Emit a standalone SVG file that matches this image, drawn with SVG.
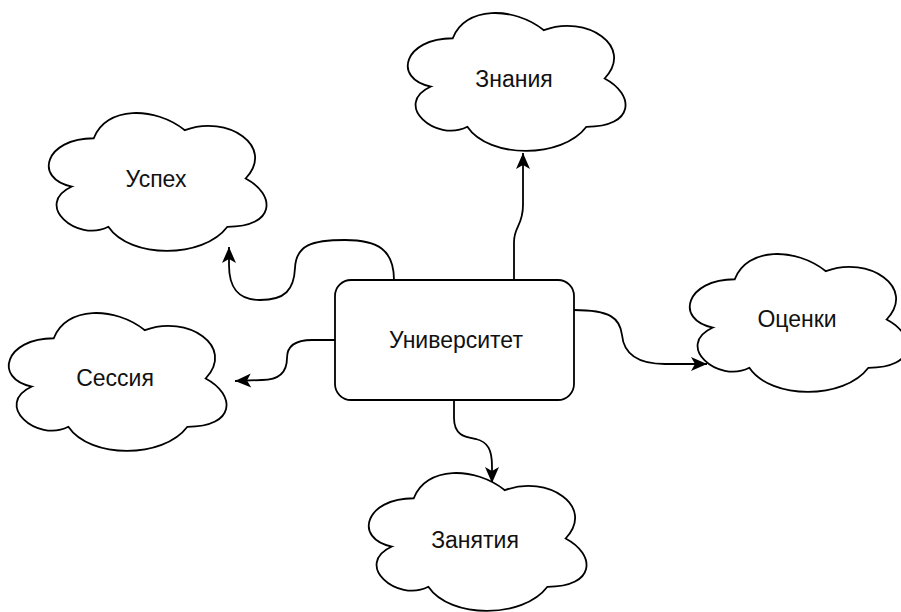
<svg xmlns="http://www.w3.org/2000/svg" xmlns:xlink="http://www.w3.org/1999/xlink" width="901" height="612" viewBox="0 0 901 612">
<style>
.shape{fill:#fff;stroke:#000;stroke-width:1.8}
.lbl{font-family:"Liberation Sans",Arial,sans-serif;font-size:23px;fill:#111;text-anchor:middle}
.edge{fill:none;stroke:#000;stroke-width:1.8;marker-end:url(#arr)}
</style>
<defs>
<path id="cloud" class="shape" d="M60.75,40.25 C12.15,40.25 0,80.5 38.88,88.55 C0,106.26 43.74,144.9 75.33,128.8 C97.2,161 170.1,161 194.4,128.8 C243,128.8 243,96.6 212.63,80.5 C243,48.3 194.4,16.1 151.88,32.2 C121.5,8.05 72.9,8.05 60.75,40.25 Z"/>
<marker id="arr" markerUnits="userSpaceOnUse" markerWidth="18" markerHeight="16" refX="16" refY="7" orient="auto" overflow="visible">
<path d="M0,0 L16,7 L0,14 L4,7 Z" fill="#000"/>
</marker>
</defs>
<rect width="901" height="612" fill="#fff"/>
<g id="edges">
<path class="edge" d="M514,280 V242 C514,226 523,226 523,205 V153"/>
<path class="edge" d="M574,310 C610,310 620,318 622,335 C624,356 640,364 665,364 L707,364"/>
<path class="edge" d="M454,400 V418 C454,436 466,437 476,439 C488,442 492,450 492,466 V483"/>
<path class="edge" d="M335,340 H312 C295,340 287,346 287,358 C287,372 280,380 262,380 L235,381"/>
<path class="edge" d="M394,280 C394,250 378,240 345,240 C312,240 296,245 295,268 C294,290 285,300 260,300 C238,300 229,288 229,265 L229,247"/>
</g>
<g id="university">
<rect class="shape" x="335" y="280" width="239" height="120" rx="16" ry="16"/>
<text class="lbl" x="456" y="348">Университет</text>
</g>
<g id="znaniya" transform="translate(392,-2)">
<use xlink:href="#cloud"/>
<text class="lbl" x="122" y="89">Знания</text>
</g>
<g id="uspeh" transform="translate(33,98)">
<use xlink:href="#cloud"/>
<text class="lbl" x="123" y="89">Успех</text>
</g>
<g id="sessiya" transform="translate(-7,298)">
<use xlink:href="#cloud"/>
<text class="lbl" x="122" y="88">Сессия</text>
</g>
<g id="ocenki" transform="translate(674,239)">
<use xlink:href="#cloud"/>
<text class="lbl" x="123" y="88">Оценки</text>
</g>
<g id="zanyatiya" transform="translate(353,458)">
<use xlink:href="#cloud"/>
<text class="lbl" x="122" y="90">Занятия</text>
</g>
</svg>
